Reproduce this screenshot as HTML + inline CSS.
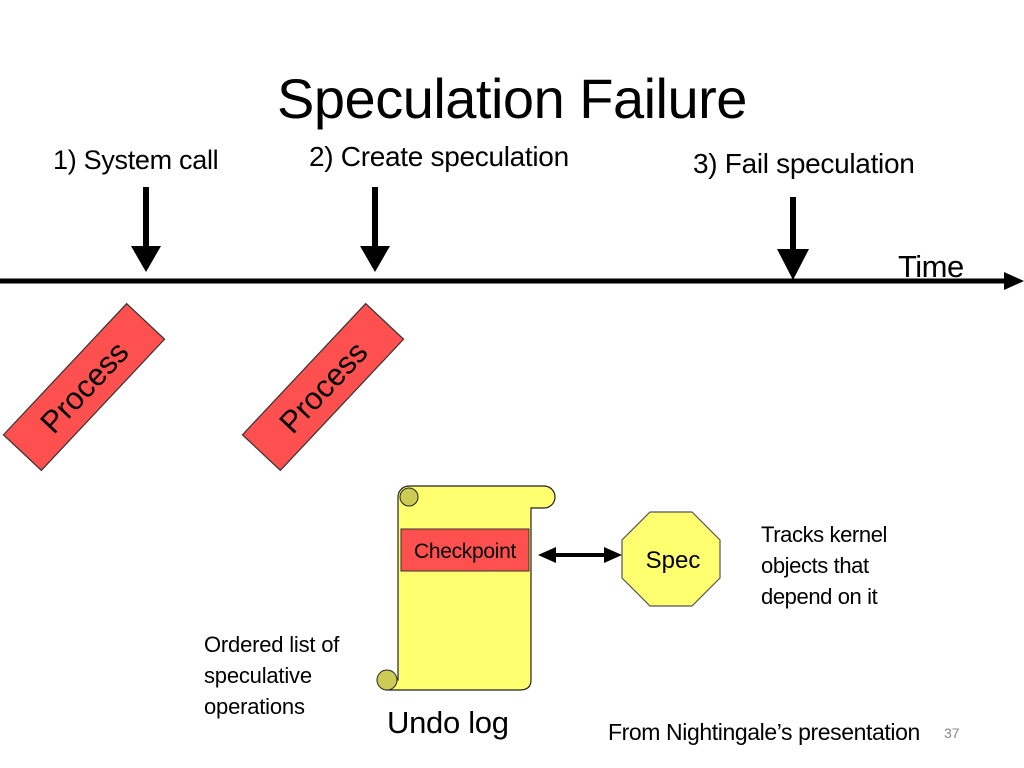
<!DOCTYPE html>
<html><head><style>
body{margin:0;width:1024px;height:768px;background:#fff;position:relative;overflow:hidden;font-family:"Liberation Sans","DejaVu Sans",sans-serif;color:#000}
.t{position:absolute;white-space:nowrap}
</style></head><body>
<div class="t" style="left:0;width:1024px;top:66px;text-align:center;font-size:56px;letter-spacing:-0.5px">Speculation Failure</div>
<div class="t" style="left:53px;top:145px;font-size:27px;letter-spacing:-0.3px">1) System call</div>
<div class="t" style="left:309px;top:141px;font-size:28px;letter-spacing:-0.3px">2) Create speculation</div>
<div class="t" style="left:693px;top:148px;font-size:28px;letter-spacing:-0.3px">3) Fail speculation</div>
<div class="t" style="left:898px;top:249px;font-size:31px;letter-spacing:-0.5px">Time</div>
<svg width="1024" height="768" style="position:absolute;left:0;top:0">
<line x1="0" y1="281" x2="1006" y2="281" stroke="#000" stroke-width="5"/>
<polygon points="1004,272 1024,281 1004,290" fill="#000"/>
<g fill="#000">
<rect x="143" y="187" width="6" height="62"/><polygon points="131,246 161,246 146,272"/>
<rect x="372" y="187" width="6" height="62"/><polygon points="360,246 390,246 375,272"/>
<rect x="790" y="197" width="6" height="55"/><polygon points="777,249 809,249 793,280"/>
</g>
<g transform="translate(84,387) rotate(-46.8)">
<rect x="-90" y="-26" width="180" height="52" fill="#ff5050" stroke="#333" stroke-width="1.2"/>
<text x="0" y="11" text-anchor="middle" font-size="31" font-family="Liberation Sans,sans-serif">Process</text>
</g>
<g transform="translate(323,387) rotate(-46.8)">
<rect x="-90" y="-26" width="180" height="52" fill="#ff5050" stroke="#333" stroke-width="1.2"/>
<text x="0" y="11" text-anchor="middle" font-size="31" font-family="Liberation Sans,sans-serif">Process</text>
</g>
<path d="M398,497 L398,680 L386,680 A11,11 0 0 0 386,690 L520,690 Q531,690 531,680 L531,508 L544,508 A11,11 0 0 0 544,486 L409,486 A11,11 0 0 0 398,497 Z" fill="#ffff70" stroke="#222" stroke-width="1.2"/>
<circle cx="409" cy="497" r="9" fill="#cccc55" stroke="#222" stroke-width="1"/>
<circle cx="387" cy="680" r="10" fill="#cccc55" stroke="#222" stroke-width="1"/>
<rect x="401" y="529" width="128" height="42" fill="#ff5050" stroke="#333" stroke-width="1"/>
<text x="465" y="558" text-anchor="middle" font-size="21" letter-spacing="-0.3" font-family="Liberation Sans,sans-serif">Checkpoint</text>
<line x1="550" y1="555" x2="610" y2="555" stroke="#000" stroke-width="4"/>
<polygon points="538,555 556,547 556,563" fill="#000"/>
<polygon points="622,555 604,547 604,563" fill="#000"/>
<polygon points="650,512 692,512 720,540 720,578 692,606 650,606 622,578 622,540" fill="#ffff70" stroke="#555" stroke-width="1.2"/>
<text x="673" y="568" text-anchor="middle" font-size="24" font-family="Liberation Sans,sans-serif">Spec</text>
</svg>
<div class="t" style="left:761px;top:519px;font-size:22px;line-height:31px;letter-spacing:-0.4px">Tracks kernel<br>objects that<br>depend on it</div>
<div class="t" style="left:204px;top:629px;font-size:22px;line-height:31px;letter-spacing:-0.2px">Ordered list of<br>speculative<br>operations</div>
<div class="t" style="left:387px;top:705px;font-size:31px;letter-spacing:-0.3px">Undo log</div>
<div class="t" style="left:608px;top:719px;font-size:23px;letter-spacing:-0.4px">From Nightingale’s presentation</div>
<div class="t" style="left:944px;top:725px;font-size:14px;color:#888">37</div>
</body></html>
